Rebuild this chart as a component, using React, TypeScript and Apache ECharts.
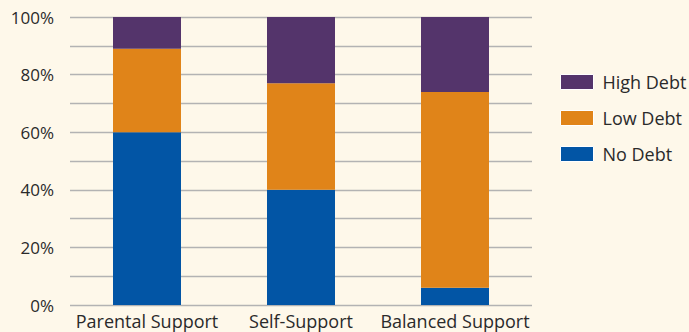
import React, { useEffect, useRef } from "react";
import * as echarts from "echarts";

const categories = ["Parental Support", "Self-Support", "Balanced Support"];
const noDebt = [60, 40, 6];
const lowDebt = [29, 37, 68];
const highDebt = [11, 23, 26];
const yTicks = [0, 20, 40, 60, 80, 100];

const BG = "#FEF8EA";

export default function App() {
  const ref = useRef<HTMLDivElement>(null);
  useEffect(() => {
    document.body.style.margin = "0";
    document.body.style.background = BG;
    if (!ref.current) return;
    const chart = echarts.init(ref.current, undefined, { renderer: "svg" });
    const gridLine = { color: "#B3B3B3", width: 1.3 };
    const font = "'Open Sans', sans-serif";
    const textColor = "#2a2a2a";
    chart.setOption({
      animation: false,
      backgroundColor: BG,
      textStyle: { fontFamily: font },
      grid: { left: 70, right: 157, top: 17, bottom: 27, containLabel: false },
      legend: {
        orient: "vertical",
        left: 560,
        top: 73,
        padding: 0,
        itemWidth: 33,
        itemHeight: 15,
        itemGap: 18,
        icon: "rect",
        data: ["High Debt", "Low Debt", "No Debt"],
        textStyle: { fontSize: 18, color: textColor, fontFamily: font, padding: [0, 0, 0, 4] },
        itemStyle: { borderColor: "#ffffff", borderWidth: 1 },
      },
      xAxis: {
        type: "category",
        data: categories,
        axisLine: { show: false },
        axisTick: { show: false },
        axisLabel: { fontSize: 18, color: textColor, margin: 7, interval: 0, fontFamily: font },
      },
      yAxis: {
        type: "value",
        min: yTicks[0],
        max: yTicks[yTicks.length - 1],
        interval: 20,
        axisLine: { show: false },
        axisTick: { show: false },
        axisLabel: { fontSize: 17, color: textColor, margin: 16, formatter: "{value}%", fontFamily: font },
        splitLine: { lineStyle: gridLine },
        minorTick: { show: false, splitNumber: 2 },
        minorSplitLine: { show: true, lineStyle: gridLine },
      },
      series: [
        { name: "No Debt", type: "bar", stack: "a", data: noDebt, barWidth: 68, itemStyle: { color: "#0255A5" } },
        { name: "Low Debt", type: "bar", stack: "a", data: lowDebt, barWidth: 68, itemStyle: { color: "#E08419" } },
        { name: "High Debt", type: "bar", stack: "a", data: highDebt, barWidth: 68, itemStyle: { color: "#54346B" } },
      ],
    });
    return () => chart.dispose();
  }, []);
  return <div ref={ref} style={{ width: 689, height: 332 }} />;
}
